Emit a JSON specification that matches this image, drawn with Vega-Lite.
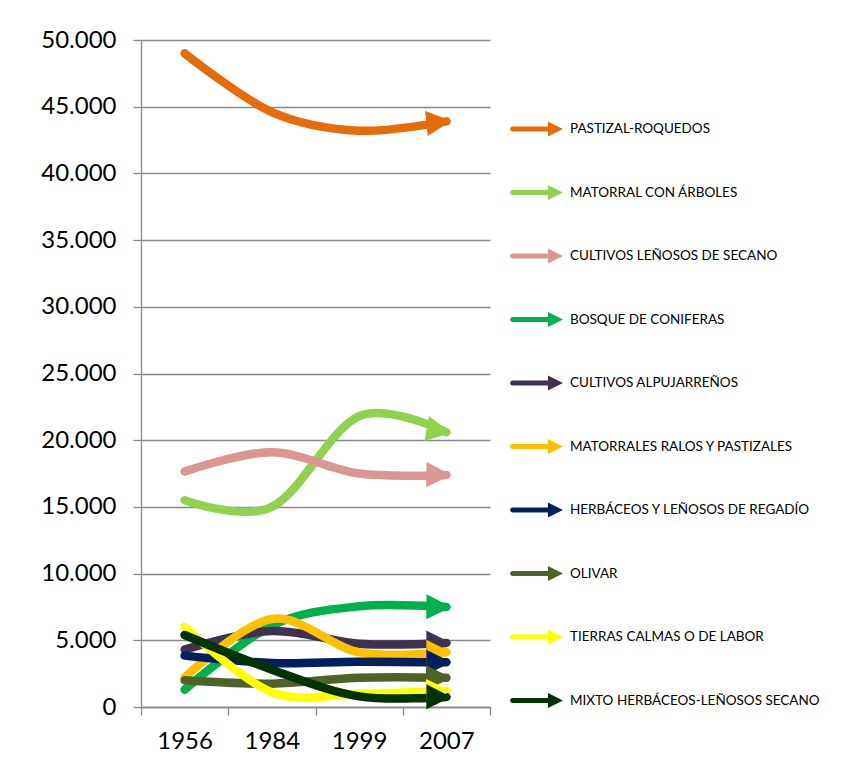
{
  "$schema": "https://vega.github.io/schema/vega-lite/v6.json",
  "width": 349,
  "height": 667,
  "autosize": {"type": "none"},
  "padding": {"left": 141, "top": 40, "right": 355, "bottom": 56},
  "background": "white",
  "config": {
    "view": {"stroke": null},
    "font": "Lato",
    "axis": {
      "gridColor": "#888888",
      "gridWidth": 1.3,
      "domainColor": "#888888",
      "domainWidth": 1.3,
      "tickColor": "#888888",
      "tickWidth": 1.3,
      "tickSize": 8,
      "labelFont": "Lato",
      "labelFontSize": 24,
      "labelColor": "#000000",
      "title": null
    }
  },
  "data": {
    "values": [
      {"serie": "PASTIZAL-ROQUEDOS", "year": "1956", "value": 49000},
      {"serie": "PASTIZAL-ROQUEDOS", "year": "1984", "value": 44600},
      {"serie": "PASTIZAL-ROQUEDOS", "year": "1999", "value": 43200},
      {"serie": "PASTIZAL-ROQUEDOS", "year": "2007", "value": 43900},
      {"serie": "MATORRAL CON ÁRBOLES", "year": "1956", "value": 15500},
      {"serie": "MATORRAL CON ÁRBOLES", "year": "1984", "value": 15000},
      {"serie": "MATORRAL CON ÁRBOLES", "year": "1999", "value": 21800},
      {"serie": "MATORRAL CON ÁRBOLES", "year": "2007", "value": 20600},
      {"serie": "CULTIVOS LEÑOSOS DE SECANO", "year": "1956", "value": 17650},
      {"serie": "CULTIVOS LEÑOSOS DE SECANO", "year": "1984", "value": 19100},
      {"serie": "CULTIVOS LEÑOSOS DE SECANO", "year": "1999", "value": 17500},
      {"serie": "CULTIVOS LEÑOSOS DE SECANO", "year": "2007", "value": 17400},
      {"serie": "BOSQUE DE CONIFERAS", "year": "1956", "value": 1300},
      {"serie": "BOSQUE DE CONIFERAS", "year": "1984", "value": 6100},
      {"serie": "BOSQUE DE CONIFERAS", "year": "1999", "value": 7550},
      {"serie": "BOSQUE DE CONIFERAS", "year": "2007", "value": 7500},
      {"serie": "CULTIVOS ALPUJARREÑOS", "year": "1956", "value": 4300},
      {"serie": "CULTIVOS ALPUJARREÑOS", "year": "1984", "value": 5700},
      {"serie": "CULTIVOS ALPUJARREÑOS", "year": "1999", "value": 4750},
      {"serie": "CULTIVOS ALPUJARREÑOS", "year": "2007", "value": 4800},
      {"serie": "MATORRALES RALOS Y PASTIZALES", "year": "1956", "value": 2200},
      {"serie": "MATORRALES RALOS Y PASTIZALES", "year": "1984", "value": 6600},
      {"serie": "MATORRALES RALOS Y PASTIZALES", "year": "1999", "value": 4100},
      {"serie": "MATORRALES RALOS Y PASTIZALES", "year": "2007", "value": 4100},
      {"serie": "HERBÁCEOS Y LEÑOSOS DE REGADÍO", "year": "1956", "value": 3850},
      {"serie": "HERBÁCEOS Y LEÑOSOS DE REGADÍO", "year": "1984", "value": 3300},
      {"serie": "HERBÁCEOS Y LEÑOSOS DE REGADÍO", "year": "1999", "value": 3400},
      {"serie": "HERBÁCEOS Y LEÑOSOS DE REGADÍO", "year": "2007", "value": 3350},
      {"serie": "OLIVAR", "year": "1956", "value": 2000},
      {"serie": "OLIVAR", "year": "1984", "value": 1750},
      {"serie": "OLIVAR", "year": "1999", "value": 2200},
      {"serie": "OLIVAR", "year": "2007", "value": 2200},
      {"serie": "TIERRAS CALMAS O DE LABOR", "year": "1956", "value": 6000},
      {"serie": "TIERRAS CALMAS O DE LABOR", "year": "1984", "value": 1100},
      {"serie": "TIERRAS CALMAS O DE LABOR", "year": "1999", "value": 1000},
      {"serie": "TIERRAS CALMAS O DE LABOR", "year": "2007", "value": 1200},
      {"serie": "MIXTO HERBÁCEOS-LEÑOSOS SECANO", "year": "1956", "value": 5400},
      {"serie": "MIXTO HERBÁCEOS-LEÑOSOS SECANO", "year": "1984", "value": 2800},
      {"serie": "MIXTO HERBÁCEOS-LEÑOSOS SECANO", "year": "1999", "value": 800},
      {"serie": "MIXTO HERBÁCEOS-LEÑOSOS SECANO", "year": "2007", "value": 750}
    ]
  },
  "encoding": {
    "x": {
      "field": "year",
      "type": "ordinal",
      "bandPosition": 0.5,
      "scale": {"type": "band", "paddingInner": 0, "paddingOuter": 0},
      "axis": {"labelAngle": 0, "tickBand": "extent", "grid": false, "labelPadding": 14, "domain": true}
    },
    "y": {
      "field": "value",
      "type": "quantitative",
      "scale": {"domain": [0, 50000], "nice": false},
      "axis": {
        "values": [0, 5000, 10000, 15000, 20000, 25000, 30000, 35000, 40000, 45000, 50000],
        "labelExpr": "replace(format(datum.value, ','), ',', '.')",
        "labelPadding": 17,
        "grid": true
      }
    },
    "color": {
      "field": "serie",
      "type": "nominal",
      "scale": {
        "domain": ["PASTIZAL-ROQUEDOS", "MATORRAL CON ÁRBOLES", "CULTIVOS LEÑOSOS DE SECANO", "BOSQUE DE CONIFERAS", "CULTIVOS ALPUJARREÑOS", "MATORRALES RALOS Y PASTIZALES", "HERBÁCEOS Y LEÑOSOS DE REGADÍO", "OLIVAR", "TIERRAS CALMAS O DE LABOR", "MIXTO HERBÁCEOS-LEÑOSOS SECANO"],
        "range": ["#E46C0A", "#92D050", "#D99694", "#00B050", "#403151", "#FFC000", "#002060", "#4F6228", "#FFFF00", "#003300"]
      },
      "legend": {
        "orient": "none",
        "legendX": 369,
        "legendY": 62.5,
        "title": null,
        "symbolType": "M-0.9,-0.094L0.43,-0.094L0.43,-0.28L1,0L0.43,0.28L0.43,0.094L-0.9,0.094A0.094,0.094,0,0,1,-0.9,-0.094Z",
        "symbolSize": 2809,
        "symbolStrokeWidth": 0,
        "labelFont": "Lato",
        "labelFontSize": 13.5,
        "labelColor": "#000000",
        "labelOffset": 7,
        "rowPadding": 29.5,
        "padding": 0,
        "labelLimit": 400,
        "encode": {
          "symbols": {
            "update": {
              "fill": {"scale": "color", "field": "value"},
              "fillOpacity": {"value": 1},
              "strokeWidth": {"value": 0}
            }
          }
        }
      }
    }
  },
  "layer": [
    {
      "mark": {"type": "line", "interpolate": "cardinal", "strokeWidth": 8.5, "strokeCap": "round", "strokeJoin": "round"}
    },
    {
      "transform": [
        {"window": [{"op": "lag", "field": "value", "as": "prev"}], "groupby": ["serie"], "sort": [{"field": "year"}]},
        {"filter": "datum.year == '2007'"},
        {"calculate": "atan2((datum.prev - datum.value) * 667 / 50000, 87.25) * 180 / PI", "as": "ang"}
      ],
      "mark": {"type": "point", "shape": "M0.2,0L-0.8,-0.5L-0.8,0.5Z", "filled": true, "size": 2500, "opacity": 1, "strokeWidth": 0},
      "encoding": {
        "angle": {"field": "ang", "type": "quantitative", "scale": null},
        "color": {"field": "serie", "type": "nominal", "legend": null}
      }
    }
  ]
}
